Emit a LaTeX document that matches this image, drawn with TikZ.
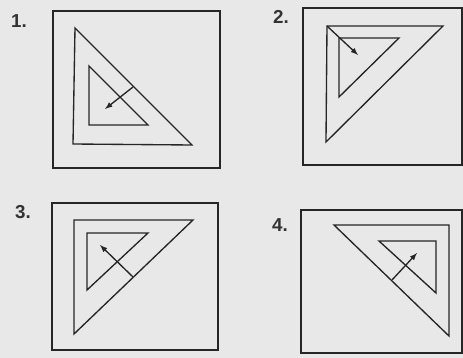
\documentclass[tikz,border=0pt]{standalone}
\usepackage{fontspec}
\setsansfont{Liberation Sans}
\usepackage{tikz}
\usetikzlibrary{calc}

\begin{document}
\begin{tikzpicture}[x=0.03cm,y=-0.03cm]
		\tikzset{>=latex}
		\tikzset{frame/.style={line width=1.3pt, draw=black!85},
			tri/.style={line width=1.15pt, draw=black!85},
			num/.style={font=\sffamily\bfseries\fontsize{16}{16}\selectfont, text=black!80}}
		\fill[black!9] (0,0) rectangle (463,358);
		\useasboundingbox (0,0) rectangle (463,358);
		% 1.
		\node[num] (n1) at (19,21) {1.};
		\draw[frame] (53,11) rectangle (220,168);
		\draw[tri] (75,28) -- (73,144) -- (192,145) -- cycle;
		\draw[tri] (89,66) -- (89,125) -- (148,125) -- cycle;
		\coordinate (a1) at (133,87);
		\coordinate (b1) at (105,109);
		\draw[tri,->] (a1) -- (b1);
		% 2.
		\node[num] (n2) at (281,17) {2.};
		\draw[frame] (303,8) rectangle (462,165);
		\draw[tri] (327,26) -- (443,26) -- (326,142) -- cycle;
		\draw[tri] (339,38) -- (399,38) -- (339,97) -- cycle;
		\coordinate (a2) at (327,26);
		\coordinate (b2) at (358,55);
		\draw[tri,->] (a2) -- (b2);
		% 3.
		\node[num] (n3) at (23,212) {3.};
		\draw[frame] (52,203) rectangle (218,350);
		\draw[tri] (74,220) -- (193,220) -- (74,334) -- cycle;
		\draw[tri] (87,233) -- (148,233) -- (87,290) -- cycle;
		\coordinate (a3) at (133,277);
		\coordinate (b3) at (100,245);
		\draw[tri,->] (a3) -- (b3);
		% 4.
		\node[num] (n4) at (280,225) {4.};
		\draw[frame] (301,210) rectangle (462,353);
		\draw[tri] (334,225) -- (449,225) -- (449,336) -- cycle;
		\draw[tri] (379,241) -- (436,241) -- (436,293) -- cycle;
		\coordinate (a4) at (392,280);
		\coordinate (b4) at (417,253);
		\draw[tri,->] (a4) -- (b4);
	\end{tikzpicture}
\end{document}
